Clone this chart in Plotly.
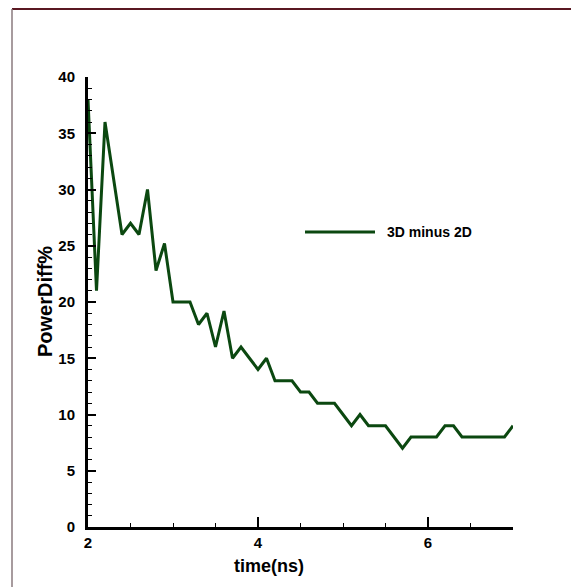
import plotly.graph_objects as go

time_ns = [2.0, 2.1, 2.2, 2.3, 2.4, 2.5, 2.6, 2.7, 2.8, 2.9,
           3.0, 3.1, 3.2, 3.3, 3.4, 3.5, 3.6, 3.7, 3.8, 3.9,
           4.0, 4.1, 4.2, 4.3, 4.4, 4.5, 4.6, 4.7, 4.8, 4.9,
           5.0, 5.1, 5.2, 5.3, 5.4, 5.5, 5.6, 5.7, 5.8, 5.9,
           6.0, 6.1, 6.2, 6.3, 6.4, 6.5, 6.6, 6.7, 6.8, 6.9, 7.0]
power_diff = [38, 21, 36, 31, 26, 27, 26, 30, 22.8, 25.2,
              20, 20, 20, 18, 19, 16, 19.2, 15, 16, 15,
              14, 15, 13, 13, 13, 12, 12, 11, 11, 11,
              10, 9, 10, 9, 9, 9, 8, 7, 8, 8,
              8, 8, 9, 9, 8, 8, 8, 8, 8, 8, 9]
series_name = "3D minus 2D"
x_title = "time(ns)"
y_title = "PowerDiff%"

LINE = "#0b4810"
FONT = "Liberation Sans"

fig = go.Figure()
fig.add_trace(go.Scatter(x=time_ns, y=power_diff, mode="lines", name=series_name,
                         line=dict(color=LINE, width=3), showlegend=False))

axis_common = dict(showline=True, linecolor="black", linewidth=3, showgrid=False, zeroline=False,
                   ticks="inside", tickcolor="black", tickwidth=2, mirror=False,
                   tickfont=dict(family=FONT, size=15, color="black", weight="bold"))

fig.update_xaxes(range=[2, 7], tick0=2, dtick=2, ticklen=10,
                 minor=dict(dtick=0.5, tick0=2, ticks="inside", ticklen=4, tickcolor="black", tickwidth=1),
                 **axis_common)
fig.update_yaxes(range=[0, 40], tick0=0, dtick=5, ticklen=8, ticklabelstandoff=7,
                 minor=dict(dtick=1, tick0=0, ticks="inside", ticklen=4, tickcolor="black", tickwidth=1),
                 **axis_common)

OFF = 8  # page body margin
W, H = 579, 587
L_page, T_page, pw, ph = 88, 77, 425, 450
L, T = L_page - OFF, T_page - OFF
R, B = W - L - pw, H - T - ph

def px(xp):
    return (xp - L_page) / pw

def py(yp):
    return (T_page + ph - yp) / ph

# legend (manual)
fig.add_shape(type="line", xref="paper", yref="paper", x0=px(305), x1=px(375), y0=py(232), y1=py(232),
              line=dict(color=LINE, width=3))
fig.add_annotation(xref="paper", yref="paper", x=px(385), y=py(232), text=series_name, showarrow=False,
                   xanchor="left", yanchor="middle",
                   font=dict(family=FONT, size=14, color="black", weight="bold"))
# axis titles
fig.add_annotation(xref="paper", yref="paper", x=px(269), y=py(566), text=x_title, showarrow=False,
                   xanchor="center", yanchor="middle",
                   font=dict(family=FONT, size=18, color="black", weight="bold"))
fig.add_annotation(xref="paper", yref="paper", x=px(45), y=py(302), text=y_title, showarrow=False,
                   textangle=-90, xanchor="center", yanchor="middle",
                   font=dict(family=FONT, size=20, color="black", weight="bold"))
# outer frame
fig.add_shape(type="line", xref="paper", yref="paper", x0=px(12), x1=px(600), y0=py(9), y1=py(9),
              line=dict(color="#5a1822", width=2))
fig.add_shape(type="line", xref="paper", yref="paper", x0=px(12), x1=px(12), y0=py(9), y1=py(620),
              line=dict(color="#8a7a7e", width=1.5))

fig.update_layout(width=W, height=H, margin=dict(l=L, r=R, t=T, b=B),
                  paper_bgcolor="white", plot_bgcolor="white", showlegend=False)

fig.write_html("out.html")
